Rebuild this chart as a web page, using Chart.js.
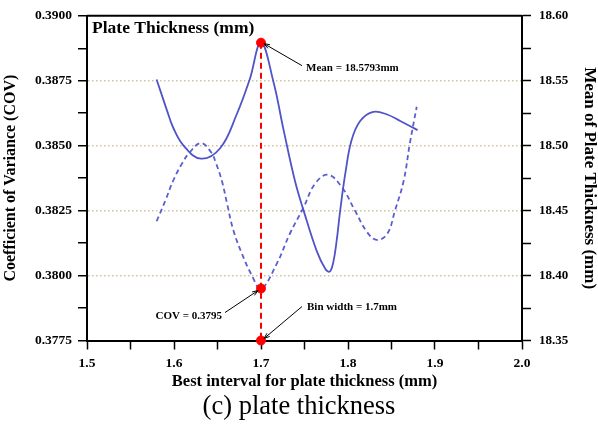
<!DOCTYPE html>
<html>
<head>
<meta charset="utf-8">
<script src="https://cdn.jsdelivr.net/npm/chart.js@4"></script>
<style>
  html, body { margin: 0; padding: 0; background: #fff; }
</style>
</head>
<body>
<canvas id="chart" width="598" height="424"></canvas>
<script>
// tick labels (major ticks; minor ticks sit halfway between)
const xTicks = [1.5, 1.6, 1.7, 1.8, 1.9, 2.0];
const covTicks = [0.3775, 0.3800, 0.3825, 0.3850, 0.3875, 0.3900];
const meanTicks = [18.35, 18.40, 18.45, 18.50, 18.55, 18.60];

// mean of plate thickness (right axis, solid line)
const meanX = [1.580, 1.592, 1.599, 1.611, 1.631, 1.653, 1.672, 1.687, 1.700, 1.714, 1.726, 1.739,
  1.749, 1.764, 1.774, 1.779, 1.783, 1.787, 1.791, 1.797, 1.804, 1.814, 1.829, 1.845, 1.860, 1.880];
const meanVals = [18.551, 18.527, 18.514, 18.500, 18.490, 18.498, 18.524, 18.551, 18.5793, 18.550, 18.512, 18.473,
  18.450, 18.419, 18.405, 18.403, 18.410, 18.427, 18.450, 18.479, 18.504, 18.519, 18.526, 18.524, 18.519, 18.512];

// coefficient of variance (left axis, dashed line)
const covX = [1.580, 1.590, 1.599, 1.609, 1.618, 1.631, 1.643, 1.648, 1.655, 1.661, 1.668, 1.678, 1.689, 1.700,
  1.718, 1.733, 1.749, 1.762, 1.777, 1.793, 1.808, 1.822, 1.833, 1.845, 1.854, 1.864, 1.871, 1.879];
const covVals = [0.38209, 0.38288, 0.38365, 0.38430, 0.38474, 0.38510, 0.38473, 0.38435, 0.38365, 0.38277, 0.38177, 0.38085, 0.38004, 0.37950,
  0.38045, 0.38160, 0.38263, 0.38353, 0.38388, 0.38340, 0.38250, 0.38167, 0.38137, 0.38160, 0.38250, 0.38365, 0.38507, 0.38650];

// best interval markers
const bestX = 1.7;
const bestMean = 18.5793;
const bestCov = 0.3795;
const covFloor = 0.3775;

const serif = '"Liberation Serif", "Times New Roman", serif';
const blue = '#5054c8';
const red = '#ff0000';

function withMinors(majors) {
  const out = [];
  majors.forEach((v, i) => {
    out.push({ value: v, isMajor: true });
    if (i < majors.length - 1) out.push({ value: (v + majors[i + 1]) / 2, isMajor: false });
  });
  return out;
}

const tickFont = { family: serif, size: 13.5, weight: 'bold' };
const tickGrid = { tickLength: 9, tickWidth: 1.5, tickColor: '#000', tickBorderDash: [] };

function arrow(ctx, x1, y1, x2, y2) {
  ctx.beginPath();
  ctx.moveTo(x1, y1);
  ctx.lineTo(x2, y2);
  ctx.stroke();
  const a = Math.atan2(y2 - y1, x2 - x1);
  const len = 6;
  ctx.beginPath();
  ctx.moveTo(x2 - len * Math.cos(a - 0.35), y2 - len * Math.sin(a - 0.35));
  ctx.lineTo(x2, y2);
  ctx.lineTo(x2 - len * Math.cos(a + 0.35), y2 - len * Math.sin(a + 0.35));
  ctx.stroke();
}

const notes = {
  id: 'notes',
  afterDatasetsDraw(chart) {
    const { ctx, chartArea, scales } = chart;
    const px = scales.x.getPixelForValue(bestX);
    const pm = scales.yMean.getPixelForValue(bestMean);
    const pc = scales.yCov.getPixelForValue(bestCov);
    const pf = scales.yCov.getPixelForValue(covFloor);
    ctx.save();
    // top frame
    ctx.strokeStyle = '#000';
    ctx.lineWidth = 2;
    ctx.beginPath();
    ctx.moveTo(chartArea.left, chartArea.top);
    ctx.lineTo(chartArea.right, chartArea.top);
    ctx.stroke();

    ctx.fillStyle = '#000';
    ctx.font = 'bold 17.5px ' + serif;
    ctx.textBaseline = 'middle';
    ctx.textAlign = 'left';
    ctx.fillText('Plate Thickness (mm)', chartArea.left + 5, chartArea.top + 13);

    ctx.lineWidth = 1;
    arrow(ctx, px + 41, pm + 23, px + 3, pm + 1);
    arrow(ctx, px - 36, pc + 24, px - 3, pc + 2);
    arrow(ctx, px + 41, pf - 34, px + 3, pf - 2);

    ctx.font = 'bold 11px ' + serif;
    ctx.fillText('Mean = ' + bestMean + 'mm', px + 45, pm + 25);
    ctx.fillText('Bin width = ' + bestX + 'mm', px + 46, pf - 33);
    ctx.textAlign = 'right';
    ctx.fillText('COV = ' + bestCov.toFixed(4), px - 39, pc + 28);
    ctx.restore();
  }
};

new Chart(document.getElementById('chart'), {
  type: 'line',
  data: {
    datasets: [
      {
        data: [{ x: bestX, y: bestMean }],
        yAxisID: 'yMean', showLine: false, clip: false,
        pointRadius: 4.5, pointBackgroundColor: red, pointBorderColor: red
      },
      {
        data: [{ x: bestX, y: bestCov }, { x: bestX, y: covFloor }],
        yAxisID: 'yCov', showLine: false, clip: false,
        pointRadius: 4.5, pointBackgroundColor: red, pointBorderColor: red
      },
      {
        data: [{ x: bestX, y: bestMean }, { x: bestX, y: meanTicks[0] }],
        yAxisID: 'yMean', borderColor: red, borderWidth: 2, borderDash: [6, 4], pointRadius: 0
      },
      {
        data: meanX.map((x, i) => ({ x, y: meanVals[i] })),
        yAxisID: 'yMean', borderColor: blue, borderWidth: 1.8, pointRadius: 0,
        tension: 0.4
      },
      {
        data: covX.map((x, i) => ({ x, y: covVals[i] })),
        yAxisID: 'yCov', borderColor: '#5a5fd0', borderWidth: 1.8, borderDash: [5, 3.5], pointRadius: 0,
        tension: 0.4
      }
    ]
  },
  options: {
    responsive: false,
    animation: false,
    layout: { padding: { top: 15, left: 0, right: 0, bottom: 0 } },
    plugins: {
      legend: { display: false },
      tooltip: { enabled: false },
      title: {
        display: true,
        position: 'bottom',
        text: '(c) plate thickness',
        color: '#000',
        font: { family: serif, size: 26.5, weight: 'normal', lineHeight: 1 },
        padding: { top: 0, bottom: 4 }
      }
    },
    scales: {
      x: {
        type: 'linear',
        min: xTicks[0],
        max: xTicks[xTicks.length - 1],
        afterBuildTicks: s => { s.ticks = withMinors(xTicks); },
        afterFit: s => { s.height = 53; },
        ticks: {
          autoSkip: false, maxRotation: 0, padding: 6, color: '#000', font: tickFont,
          callback: (v, i, t) => t[i].isMajor ? v.toFixed(1) : ''
        },
        grid: Object.assign({ drawOnChartArea: false }, tickGrid),
        border: { color: '#000', width: 2 },
        title: {
          display: true, text: 'Best interval for plate thickness (mm)', color: '#000',
          font: { family: serif, size: 16.5, weight: 'bold', lineHeight: 1.2 },
          padding: { top: 0, bottom: 2 }
        }
      },
      yCov: {
        type: 'linear',
        position: 'left',
        min: covTicks[0],
        max: covTicks[covTicks.length - 1],
        afterBuildTicks: s => { s.ticks = withMinors(covTicks); },
        afterFit: s => { s.width = 87; },
        ticks: {
          autoSkip: false, padding: 6, color: '#000', font: tickFont,
          callback: (v, i, t) => t[i].isMajor ? v.toFixed(4) : ''
        },
        grid: Object.assign({
          lineWidth: 1.5,
          color: c => (c.tick && c.tick.isMajor && c.index > 0 && c.index < c.scale.ticks.length - 1)
            ? '#cfc29c' : 'rgba(0,0,0,0)'
        }, tickGrid),
        border: { color: '#000', width: 2, dash: [1.5, 2.5] },
        title: {
          display: true, text: 'Coefficient of Variance (COV)', color: '#000',
          font: { family: serif, size: 16, weight: 'bold', lineHeight: 1.2 },
          padding: { top: 1, bottom: 0 }
        }
      },
      yMean: {
        type: 'linear',
        position: 'right',
        min: meanTicks[0],
        max: meanTicks[meanTicks.length - 1],
        afterBuildTicks: s => { s.ticks = withMinors(meanTicks); },
        afterFit: s => { s.width = 76; },
        ticks: {
          autoSkip: false, padding: 8, color: '#000', font: { family: serif, size: 13, weight: 'bold' },
          callback: (v, i, t) => t[i].isMajor ? v.toFixed(2) : ''
        },
        grid: Object.assign({ drawOnChartArea: false }, tickGrid),
        border: { color: '#000', width: 2 },
        title: {
          display: true, text: 'Mean of Plate Thickness (mm)', color: '#000',
          font: { family: serif, size: 17, weight: 'bold', lineHeight: 1.2 },
          padding: { top: -2, bottom: 0 }
        }
      }
    }
  },
  plugins: [notes]
});
</script>
</body>
</html>
